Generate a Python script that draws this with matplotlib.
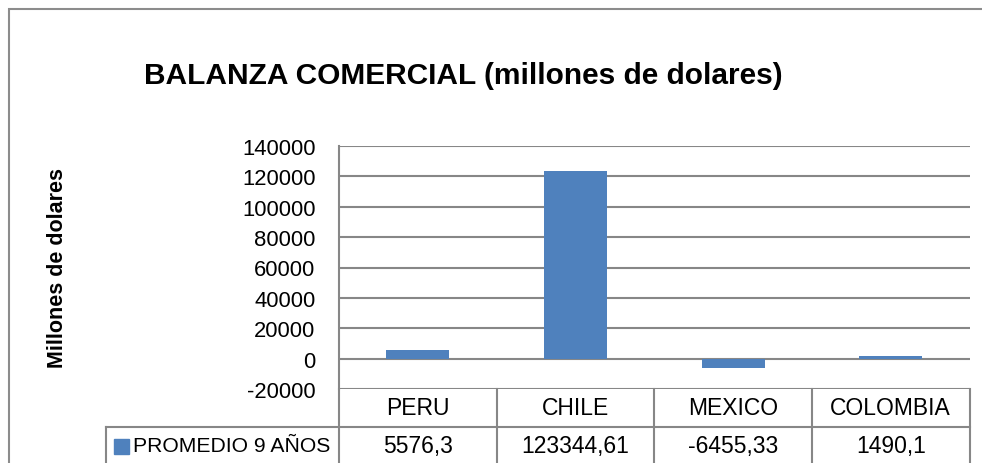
import matplotlib.pyplot as plt
import matplotlib.transforms as mtransforms
from matplotlib.patches import Rectangle

# Datos
paises = ['PERU', 'CHILE', 'MEXICO', 'COLOMBIA']
promedio = [5576.3, 123344.61, -6455.33, 1490.1]
etiquetas = ['5576,3', '123344,61', '-6455,33', '1490,1']
serie = 'PROMEDIO 9 AÑOS'
yticks = [-20000, 0, 20000, 40000, 60000, 80000, 100000, 120000, 140000]

W, H = 982, 464
azul = '#4F81BD'
gris = '#878787'
fuente = ['Liberation Sans', 'DejaVu Sans']

fig = plt.figure(figsize=(W / 100, H / 100), dpi=100)


def fx(px):
    return px / W


def fy(py):
    return 1 - py / H


# marco del grafico
fig.patches.append(Rectangle((fx(8.5), fy(480)), fx(1200), fy(10) - fy(480),
                             transform=fig.transFigure, fill=False,
                             edgecolor='#8c8c8c', lw=1.5))

ax = fig.add_axes([fx(339), fy(390), fx(969.5) - fx(339), fy(147) - fy(390)])
x = range(len(paises))
ax.bar(x, promedio, width=0.4, color=azul, zorder=3)
ax.set_xlim(-0.5, len(paises) - 0.5)
ax.set_ylim(-20000, 140000)
ax.set_yticks(yticks)
ax.set_yticklabels([str(v) for v in yticks], family=fuente, fontsize=15.8)
ax.set_xticks([])
ax.tick_params(axis='y', length=0, pad=17)
ax.yaxis.grid(True, color=gris, lw=1.5)
ax.set_axisbelow(True)
for s in ['top', 'right', 'bottom']:
    ax.spines[s].set_visible(False)
ax.spines['left'].set_color(gris)
ax.spines['left'].set_linewidth(1.5)

# tabla de datos
tr = mtransforms.blended_transform_factory(ax.transData, fig.transFigure)
for b in [i - 0.5 for i in range(len(paises) + 1)]:
    ax.plot([b, b], [fy(390), fy(470)], transform=tr, color=gris, lw=1.5, clip_on=False)
fig.lines.append(plt.Line2D([fx(106), fx(969.5)], [fy(428), fy(428)],
                            transform=fig.transFigure, color=gris, lw=1.5))
fig.lines.append(plt.Line2D([fx(106), fx(106)], [fy(428), fy(470)],
                            transform=fig.transFigure, color=gris, lw=1.5))
for i, (p, e) in enumerate(zip(paises, etiquetas)):
    ax.text(i, fy(409), p, transform=tr, ha='center', va='center',
            family=fuente, fontsize=16.5)
    ax.text(i, fy(447), e, transform=tr, ha='center', va='center',
            family=fuente, fontsize=16.5)
fig.patches.append(Rectangle((fx(114), fy(455)), fx(15), fy(440) - fy(455),
                             transform=fig.transFigure, color=azul))
fig.text(fx(133), fy(447), serie, ha='left', va='center', family=fuente, fontsize=15.2)

fig.text(fx(463), fy(76), 'BALANZA COMERCIAL (millones de dolares)', ha='center',
         va='center', family=fuente, fontsize=21.5, fontweight='bold')
fig.text(fx(58), fy(268), 'Millones de dolares', rotation=90, ha='center', va='center',
         family=fuente, fontsize=15.5, fontweight='bold')

fig.savefig('out.png', dpi=100)
